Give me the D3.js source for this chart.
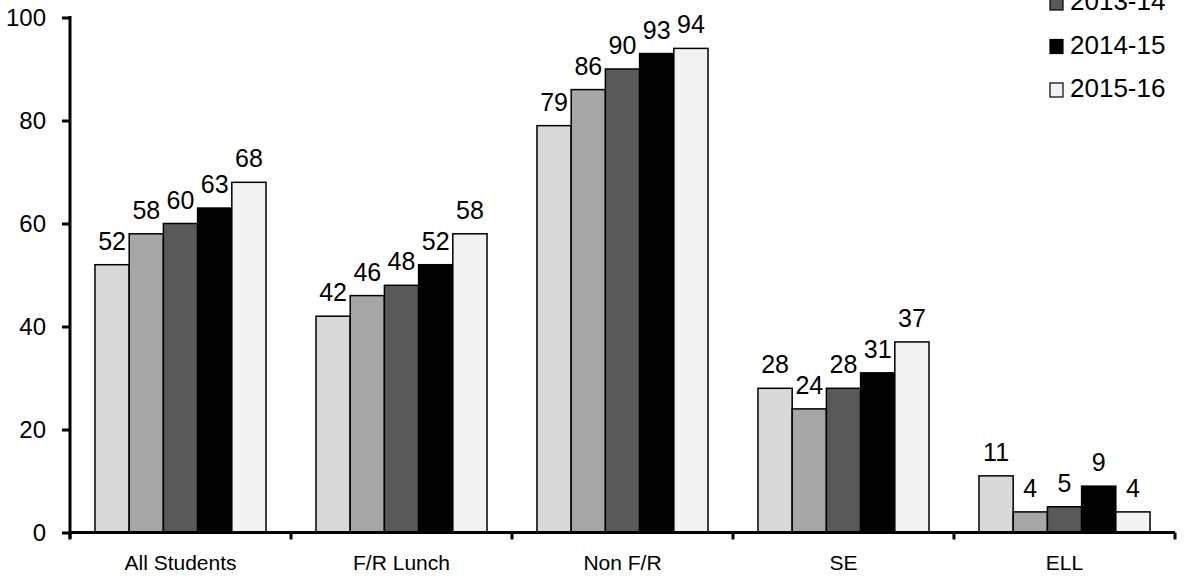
<!DOCTYPE html>
<html>
<head>
<meta charset="utf-8">
<script src="https://cdn.jsdelivr.net/npm/d3@7/dist/d3.min.js"></script>
<style>
  html, body { margin: 0; padding: 0; background: #fff; }
  svg { display: block; font-family: "Liberation Sans", Arial, sans-serif; }
</style>
</head>
<body>
<svg id="chart" width="1194" height="581"></svg>
<script>
// Student groups along the x axis
const categories = ["All Students", "F/R Lunch", "Non F/R", "SE", "ELL"];
// School years shown as grouped bars
const years = ["2011-12", "2012-13", "2013-14", "2014-15", "2015-16"];
// Percent values per year, one entry per student group
const v2011 = [52, 42, 79, 28, 11];
const v2012 = [58, 46, 86, 24, 4];
const v2013 = [60, 48, 90, 28, 5];
const v2014 = [63, 52, 93, 31, 9];
const v2015 = [68, 58, 94, 37, 4];
const yTicks = [0, 20, 40, 60, 80, 100];
const fills = ["#d9d9d9", "#a6a6a6", "#595959", "#000000", "#f2f2f2"];

const seriesValues = [v2011, v2012, v2013, v2014, v2015];

const svg = d3.select("#chart");
const plotLeft = 70, plotRight = 1175, plotTop = 17.5, plotBottom = 532.5;

const x0 = d3.scaleBand().domain(categories).range([plotLeft, plotRight]).paddingInner(0).paddingOuter(0);
const x1 = d3.scaleBand().domain(years).range([0, x0.bandwidth()]).paddingOuter(0.73);
const y = d3.scaleLinear().domain([0, 100]).range([plotBottom, plotTop]);

// Bars
const groups = svg.append("g").selectAll("g")
  .data(categories)
  .join("g")
  .attr("transform", d => `translate(${x0(d)},0)`);

groups.selectAll("rect")
  .data((c, ci) => years.map((yr, si) => ({ yr, si, v: seriesValues[si][ci] })))
  .join("rect")
  .attr("x", d => x1(d.yr))
  .attr("y", d => y(d.v))
  .attr("width", x1.bandwidth())
  .attr("height", d => y(0) - y(d.v))
  .attr("fill", d => fills[d.si])
  .attr("stroke", "#000")
  .attr("stroke-width", 1.5);

// Value labels above each bar
groups.selectAll("text.val")
  .data((c, ci) => years.map((yr, si) => ({ yr, si, v: seriesValues[si][ci] })))
  .join("text")
  .attr("class", "val")
  .attr("x", d => x1(d.yr) + x1.bandwidth() / 2)
  .attr("y", d => y(d.v) - 15)
  .attr("text-anchor", "middle")
  .attr("font-size", 25)
  .attr("fill", "#000")
  .text(d => d.v);

// Y axis
const yAxis = d3.axisLeft(y).tickValues(yTicks).tickSize(8).tickPadding(16);
const gy = svg.append("g").attr("transform", `translate(${plotLeft},0)`).call(yAxis);
gy.select(".domain").remove();
gy.selectAll(".tick line").attr("stroke", "#000").attr("stroke-width", 3);
gy.selectAll(".tick text").attr("font-size", 24).attr("fill", "#000")
  .attr("font-family", "'Liberation Sans', Arial, sans-serif");
gy.append("line")
  .attr("x1", 0).attr("x2", 0)
  .attr("y1", plotTop - 1.5).attr("y2", plotBottom + 6)
  .attr("stroke", "#000").attr("stroke-width", 3);

// X axis with ticks at group boundaries
const gx = svg.append("g").attr("transform", `translate(0,${plotBottom})`);
gx.append("line")
  .attr("x1", plotLeft).attr("x2", plotRight)
  .attr("stroke", "#000").attr("stroke-width", 3);
const boundaries = categories.map(c => x0(c)).concat([x0(categories[categories.length - 1]) + x0.bandwidth()]);
gx.selectAll("line.tk")
  .data(boundaries)
  .join("line")
  .attr("class", "tk")
  .attr("x1", d => d).attr("x2", d => d)
  .attr("y1", 0).attr("y2", 7)
  .attr("stroke", "#000").attr("stroke-width", 3);
gx.selectAll("text")
  .data(categories)
  .join("text")
  .attr("x", d => x0(d) + x0.bandwidth() / 2)
  .attr("y", 37)
  .attr("text-anchor", "middle")
  .attr("font-size", 21)
  .attr("fill", "#000")
  .text(d => d);

// Legend (top right); earlier years sit above the visible area
const legend = svg.append("g").attr("transform", "translate(1050,0)");
const rowBaseline = i => 10 + (i - 2) * 43.5;
const items = legend.selectAll("g")
  .data(years)
  .join("g")
  .attr("transform", (d, i) => `translate(0,${rowBaseline(i)})`);
items.append("rect")
  .attr("x", 0).attr("y", -14)
  .attr("width", 13).attr("height", 14)
  .attr("fill", (d, i) => fills[i])
  .attr("stroke", "#000").attr("stroke-width", 1.2);
items.append("text")
  .attr("x", 20).attr("y", 0)
  .attr("font-size", 26)
  .attr("fill", "#000")
  .text(d => d);
</script>
</body>
</html>
